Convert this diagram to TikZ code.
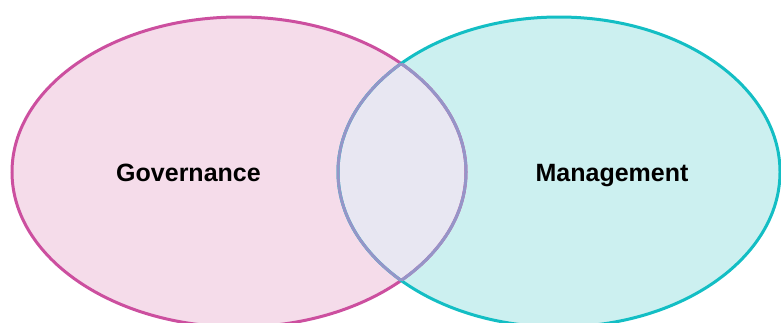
\documentclass[tikz,border=0pt]{standalone}
\usepackage{fontspec}
\setmainfont{Liberation Sans}
\definecolor{govfill}{HTML}{F5DCEA}
\definecolor{govline}{HTML}{CC4F9F}
\definecolor{mgmtfill}{HTML}{CCF0F0}
\definecolor{mgmtline}{HTML}{13BEC4}
\definecolor{lensfill}{HTML}{E8E7F2}
\definecolor{lensline}{HTML}{9595C8}
\tikzset{
  lbl/.style={font=\bfseries\fontsize{25}{29}\selectfont, text=black, inner sep=0pt, anchor=base},
  ring/.style={line width=3pt},
}
\def\govpath{(239,172) ellipse [x radius=227, y radius=155]}
\def\mgmtpath{(559,172) ellipse [x radius=221, y radius=155]}
\begin{document}
\begin{tikzpicture}[x=1pt,y=-1pt]
  \useasboundingbox (0,0) rectangle (781,322);
  \clip (0,0) rectangle (781,322);
  \fill[govfill] \govpath;
  \fill[mgmtfill] \mgmtpath;
  \begin{scope}
    \clip \govpath;
    \fill[lensfill] \mgmtpath;
  \end{scope}
  \draw[ring, govline] \govpath;
  \draw[ring, mgmtline] \mgmtpath;
  \begin{scope}
    \clip \mgmtpath;
    \draw[ring, lensline] \govpath;
  \end{scope}
  \begin{scope}
    \clip \govpath;
    \draw[ring, lensline] \mgmtpath;
  \end{scope}
  \node[lbl] (gov) at (188.5,181) {Governance};
  \node[lbl] (mgmt) at (612,181) {Management};
\end{tikzpicture}
\end{document}
